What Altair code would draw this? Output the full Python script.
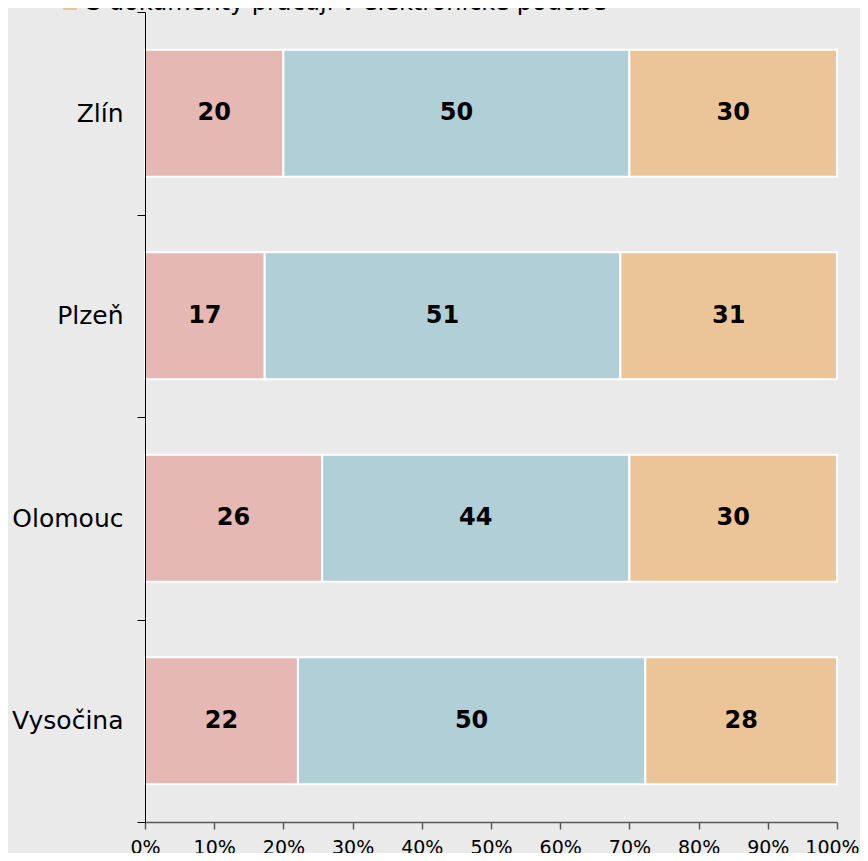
import altair as alt
import pandas as pd

regions = ["Zlín", "Plzeň", "Olomouc", "Vysočina"]
series = [
    "S dokumenty nepracují",
    "S dokumenty pracují v listinné podobě",
    "S dokumenty pracují v elektronické podobě",
]
colors = ["#e6b8b3", "#b1cfd6", "#ebc598"]

s1 = [20.0, 17.3, 25.6, 22.1]
s2 = [50.0, 51.4, 44.4, 50.2]
s3 = [30.0, 31.3, 30.0, 27.7]

rows = []
for i, r in enumerate(regions):
    for k, (name, vals) in enumerate(zip(series, [s1, s2, s3])):
        rows.append({"region": r, "series": name, "order": k, "value": vals[i]})
df = pd.DataFrame(rows)

base = alt.Chart(df).transform_stack(
    stack="value", groupby=["region"], as_=["x0", "x1"],
    sort=[alt.SortField("order", order="ascending")]
).transform_calculate(mid="(datum.x0 + datum.x1) / 2")

yscale = alt.Scale(paddingInner=0, paddingOuter=0)

yenc = alt.Y(
    "region:N", sort=regions, scale=yscale,
    axis=alt.Axis(title=None, tickBand="extent", tickSize=8, labelPadding=14,
                  labelFontSize=25, labelColor="#000000", domainColor="#000000",
                  tickColor="#000000", domainWidth=1, tickWidth=1, zindex=1),
)

bars = base.mark_bar(stroke="white", strokeWidth=2, height={"band": 0.627}).encode(
    y=yenc,
    x=alt.X("x0:Q", scale=alt.Scale(domain=[0, 100], nice=False),
            axis=alt.Axis(title=None, values=list(range(0, 101, 10)),
                          labelExpr="datum.value + '%'", grid=False,
                          labelOverlap=False, labelFlush=False,
                          labelOffset={"condition": {"test": "datum.value == 100", "value": -5},
                                       "value": 0},
                          tickSize=7, labelPadding=9, labelFontSize=19,
                          labelColor="#000000", domainColor="#595959",
                          tickColor="#595959", domainWidth=1.5, tickWidth=1.5,
                          zindex=1)),
    x2="x1:Q",
    color=alt.Color("series:N", scale=alt.Scale(domain=series, range=colors),
                    legend=alt.Legend(title=None, orient="none", legendX=-87,
                                      legendY=-73, direction="vertical",
                                      labelFontSize=24, labelColor="#000000",
                                      symbolType="square", symbolSize=196,
                                      symbolStrokeWidth=0, rowPadding=2,
                                      labelLimit=800)),
    order=alt.Order("order:Q"),
)

labels = base.mark_text(fontSize=24, fontWeight="bold", color="#000000").encode(
    y=alt.Y("region:N", sort=regions, scale=yscale),
    x=alt.X("mid:Q"),
    text=alt.Text("value:Q", format=".0f"),
)

chart = alt.layer(bars, labels).properties(
    width=692, height=810,
    autosize=alt.AutoSizeParams(type="none"),
    padding={"left": 137, "top": 4, "right": 23, "bottom": 31},
    background="#eaeaea",
).configure(font="DejaVu Sans").configure_view(stroke=None)

chart.save("out.html", embed_options={"renderer": "svg", "actions": False})
